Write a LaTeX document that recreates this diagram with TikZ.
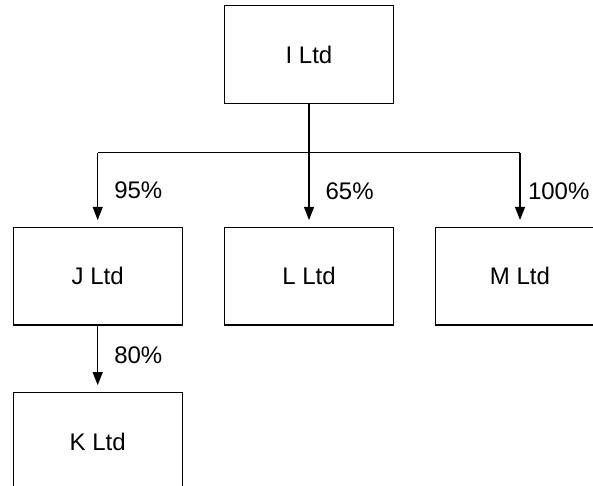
\documentclass[tikz,border=0pt]{standalone}
\usepackage{fontspec}
\setmainfont{Liberation Sans}
\usetikzlibrary{arrows.meta}
\tikzset{
	company/.style={draw, minimum width=84.5pt, minimum height=48.75pt, inner sep=0pt, font=\fontsize{12}{14}\selectfont},
	share/.style={-{Triangle[length=6.5pt,width=5pt]}, shorten >=3.5pt},
	pct/.style={anchor=west, inner sep=0pt, xshift=8pt, font=\fontsize{12}{14}\selectfont}
}

\begin{document}
\begin{tikzpicture}[x=0.5pt, y=-0.5pt, line width=0.6pt]
		\useasboundingbox (0,0) rectangle (593,486);
		\node[company] (I) at (309,54.5) {I Ltd};
		\node[company] (J) at (97.7,276.3) {J Ltd};
		\node[company] (L) at (309,276.3) {L Ltd};
		\node[company] (M) at (520,276.3) {M Ltd};
		\node[company] (K) at (97.7,441.5) {K Ltd};
		\coordinate (bus) at (309,152.7);
		\draw (I) -- (bus);
		\draw (J.north |- bus) -- (M.north |- bus);
		\draw [share] (J.north |- bus) -- (J.north) node[pct, pos=0.5] {95\%};
		\draw [share] (bus) -- (L.north) node[pct, pos=0.52] {65\%};
		\draw [share] (M.north |- bus) -- (M.north) node[pct, pos=0.52, xshift=-4.3pt] {100\%};
		\draw [share] (J.south) -- (K.north) node[pct, pos=0.44] {80\%};
	\end{tikzpicture}
\end{document}
